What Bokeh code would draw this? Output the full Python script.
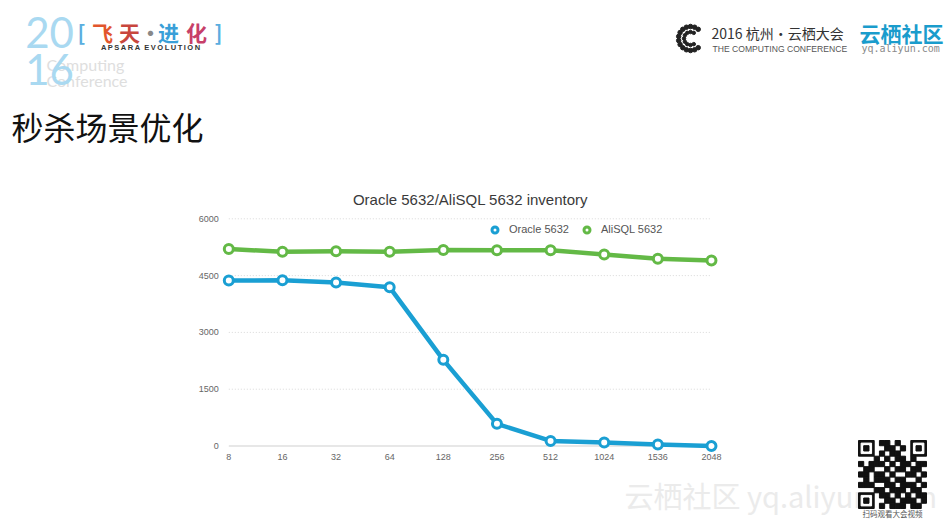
import math
from bokeh.plotting import figure
from bokeh.models import Range1d, Label, Legend, LegendItem
from bokeh.core.properties import value
from bokeh.embed import file_html
from bokeh.resources import INLINE

# ---------------- data ----------------
threads = ["8", "16", "32", "64", "128", "256", "512", "1024", "1536", "2048"]
oracle = [4370, 4375, 4315, 4190, 2275, 585, 135, 92, 38, 0]
alisql = [5200, 5130, 5145, 5130, 5175, 5170, 5170, 5060, 4945, 4900]
y_ticks = [0, 1500, 3000, 4500, 6000]
y_tick_labels = [str(t) for t in y_ticks]
series_names = ["Oracle 5632", "AliSQL 5632"]
chart_title = "Oracle 5632/AliSQL 5632 inventory"
slide_title = "秒杀场景优化"

BLUE = "#1a9fd3"
GREEN = "#63b946"
FONT = "Liberation Sans"
CJK = "Noto Sans CJK SC"

# ---------------- page / chart geometry (px) ----------------
W, H = 948, 521
X0_PX, X_STEP_PX = 228.3, 53.63          # first category position, spacing
Y0_PX, Y_PX_PER_UNIT = 445.5, 227.2 / 6000  # value 0 position, scale

idx = list(range(len(threads)))

p = figure(width=W, height=H, output_backend="svg", toolbar_location=None,
           x_range=Range1d(0, W), y_range=Range1d(H, 0),
           x_axis_location=None, y_axis_location=None, min_border=0)
p.outline_line_color = None
p.background_fill_color = "white"
p.border_fill_color = "white"
p.xgrid.visible = False
p.ygrid.visible = False

cx_start = -X0_PX / X_STEP_PX
cy_start = -(H - Y0_PX) / Y_PX_PER_UNIT
p.extra_x_ranges = {"cx": Range1d(cx_start, cx_start + W / X_STEP_PX)}
p.extra_y_ranges = {"cy": Range1d(cy_start, cy_start + H / Y_PX_PER_UNIT)}
C = dict(x_range_name="cx", y_range_name="cy")

# ---------------- page decorations (page px coordinates) ----------------
def lab(X, Y, text, size, color="#333333", font=FONT, align="left", style="normal"):
    p.add_layout(Label(x=X, y=Y, text=text, text_font=font,
                       text_font_size=f"{size}px", text_color=color,
                       text_align=align, text_baseline="middle",
                       text_font_style=style))


# watermark (glyph, so the QR code can cover it)
p.text(x=[624], y=[494], text=["云栖社区 yq.aliyun.com"], text_font=value(CJK),
       text_font_size="29px", text_color="#ebebeb", text_baseline="middle")

# slide title
lab(11, 125, slide_title, 32, "#111111", font=CJK)

# top-left logo
lab(46, 64, "Computing", 16, "#dedede", font="Lato")
lab(46, 80, "Conference", 16, "#dedede", font="Lato")
lab(49, 32, "20", 42, "#a9d9f1", font="Lato", align="center")
lab(49, 69, "16", 42, "#a9d9f1", font="Lato", align="center")
for X, ch, col in ((81, "[", "#5aaee0"), (102, "飞", "#e2562d"), (129, "天", "#c8463d"),
                   (150, "·", "#888888"), (168, "进", "#3a9fd8"), (196, "化", "#c74069"),
                   (218, "]", "#5aaee0")):
    lab(X, 31, ch, 21, col, font=CJK, align="center", style="bold")
ts = "\u2009"
lab(150, 47, ts.join("APSARA") + "\u00a0\u00a0" + ts.join("EVOLUTION"), 7.5,
    "#333333", align="center", style="bold")

# top-right logo: dotted "C" icon
ring = [a for a in range(50, 320, 20)]
p.scatter([690 + 12 * math.cos(math.radians(a)) for a in ring],
          [38 - 12 * math.sin(math.radians(a)) for a in ring],
          size=4.5, color="#222222")
ring2 = [a for a in range(60, 310, 30)]
p.scatter([690 + 6.5 * math.cos(math.radians(a)) for a in ring2],
          [38 - 6.5 * math.sin(math.radians(a)) for a in ring2],
          size=3.5, color="#222222")
lab(711, 32, "2016 杭州·云栖大会", 14, "#333333", font=CJK)
lab(712, 48, "THE COMPUTING CONFERENCE", 8.6, "#555555")
lab(859, 32, "云栖社区", 21, "#1a9ccc", font=CJK, style="bold")
lab(861, 48, "yq.aliyun.com", 10, "#8a8a8a", font="DejaVu Sans Mono")

# QR-code placeholder
qr_rows = ["0000110100000",
           "0000011010000",
           "0000101100000",
           "0001010110100",
           "1011101011011",
           "0110010110110",
           "1101101001101",
           "0101110110010",
           "1110011011101",
           "0001101110110",
           "0000110101011",
           "0000011011101",
           "0000101110110"]
QX, QY, QS = 858, 440, 68 / 13
p.quad(left=[QX], right=[QX + 13 * QS], top=[QY], bottom=[QY + 13 * QS], color="white")
ql, qr, qt, qb = [], [], [], []
for r, row in enumerate(qr_rows):
    for c, bit in enumerate(row):
        if bit == "1":
            ql.append(QX + c * QS); qr.append(QX + (c + 1) * QS)
            qt.append(QY + r * QS); qb.append(QY + (r + 1) * QS)
p.quad(left=ql, right=qr, top=qt, bottom=qb, color="#111111")
fl, fr, ft, fb, fc = [], [], [], [], []
for (fx, fy) in ((0, 0), (10, 0), (0, 10)):
    x0, y0 = QX + fx * QS, QY + fy * QS
    for inset, col in ((0, "#111111"), (2.6, "white"), (5.2, "#111111")):
        fl.append(x0 + inset); fr.append(x0 + 3 * QS - inset)
        ft.append(y0 + inset); fb.append(y0 + 3 * QS - inset); fc.append(col)
p.quad(left=fl, right=fr, top=ft, bottom=fb, color=fc)
lab(892, 513, "扫码观看大会视频", 7.5, "#555555", font=CJK, align="center")

# ---------------- chart ----------------
lab(470, 199, chart_title, 15, "#3a3a3a", align="center")

grid_vals = [t for t in y_ticks if t != 0]
p.segment(x0=idx[0], x1=idx[-1], y0=grid_vals, y1=grid_vals,
          line_color="#d8d8d8", line_width=1, line_dash="1 2", **C)
p.segment(x0=idx[0], x1=idx[-1], y0=[y_ticks[0]], y1=[y_ticks[0]],
          line_color="#cfcfcf", line_width=1, **C)

p.text(x=idx, y=y_ticks[0], text=threads, y_offset=11, text_align="center",
       text_baseline="middle", text_font=value(FONT), text_font_size="9px",
       text_color="#666666", **C)
p.text(x=idx[0], y=y_ticks, text=y_tick_labels, x_offset=-10, text_align="right",
       text_baseline="middle", text_font=value(FONT), text_font_size="9px",
       text_color="#666666", **C)

markers = []
for vals, col in ((oracle, BLUE), (alisql, GREEN)):
    p.line(idx, vals, line_width=4.5, line_color=col, line_join="round", **C)
    markers.append(p.scatter(idx, vals, size=9, fill_color="white", line_color=col,
                             line_width=3, **C))

legend = Legend(items=[LegendItem(label=series_names[0], renderers=[markers[0]]),
                       LegendItem(label=series_names[1], renderers=[markers[1]])],
                orientation="horizontal", location=(487, H - 236.5),
                glyph_width=15, glyph_height=15, label_standoff=7, spacing=10,
                padding=0, margin=0, border_line_color=None,
                background_fill_alpha=0, label_text_font=FONT,
                label_text_font_size="11px", label_text_color="#555555",
                label_height=15)
p.add_layout(legend)

open("out.html", "w").write(file_html(p, INLINE))
